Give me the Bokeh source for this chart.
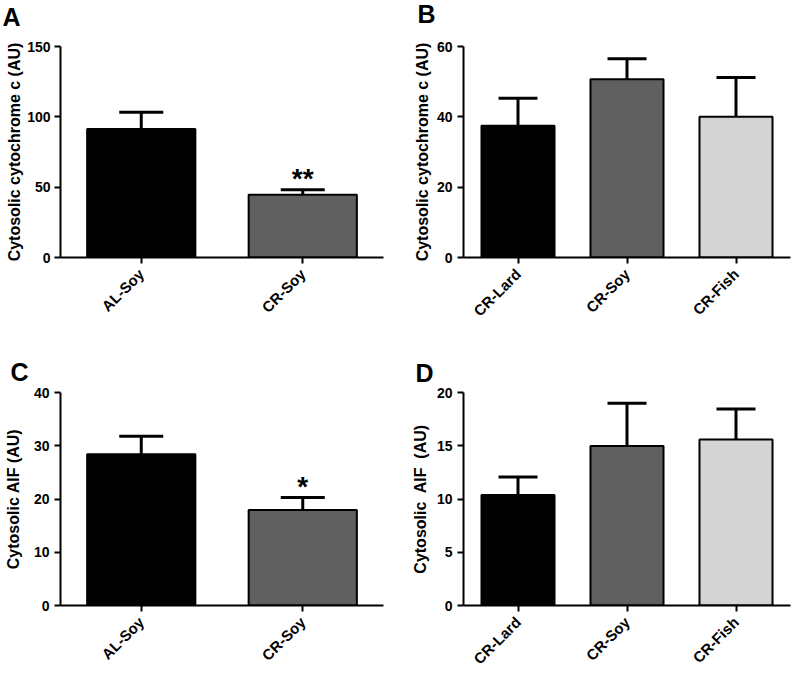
import math
from bokeh.plotting import figure
from bokeh.models import ColumnDataSource, Range1d, FixedTicker, Whisker, TeeHead, Label, FactorRange
from bokeh.layouts import row, column
from bokeh.embed import file_html
from bokeh.resources import INLINE
from bokeh.core.properties import value

# ---- data ----
groups_ac = ["AL-Soy", "CR-Soy"]
groups_bd = ["CR-Lard", "CR-Soy", "CR-Fish"]

cytc_a_mean = [91.4, 44.6]
cytc_a_sem = [11.9, 3.6]
cytc_a_sig = ["", "**"]

cytc_b_mean = [37.5, 50.7, 40.0]
cytc_b_sem = [7.8, 5.8, 11.2]
cytc_b_sig = ["", "", ""]

aif_c_mean = [28.4, 17.95]
aif_c_sem = [3.4, 2.35]
aif_c_sig = ["", "*"]

aif_d_mean = [10.38, 14.98, 15.59]
aif_d_sem = [1.68, 4.0, 2.86]
aif_d_sig = ["", "", ""]

colors_ac = ["#000000", "#606060"]
colors_bd = ["#000000", "#606060", "#d4d4d4"]

ticks_a = [0, 50, 100, 150]
ticks_b = [0, 20, 40, 60]
ticks_c = [0, 10, 20, 30, 40]
ticks_d = [0, 5, 10, 15, 20]

label_cytc = "Cytosolic cytochrome c (AU)"
label_aif_c = "Cytosolic AIF (AU)"
label_aif_d = "Cytosolic\u00a0 AIF\u00a0 (AU)"

FONT = "Liberation Sans"


def panel(letter, cats, means, sems, colors, sig, ticks, ylabel,
          width, height, bl, br, bt, bb, cap, lx, ly, lab_standoff, tick_standoff, letter_size):
    upper = [m + s for m, s in zip(means, sems)]
    src = ColumnDataSource(dict(x=cats, top=means, upper=upper, color=colors, sig=sig))
    p = figure(x_range=FactorRange(factors=cats), y_range=Range1d(0, ticks[-1]),
               width=width, height=height, output_backend="svg", toolbar_location=None,
               sizing_mode="fixed")
    p.min_border_left = bl
    p.min_border_right = br
    p.min_border_top = bt
    p.min_border_bottom = bb
    p.vbar(x="x", top="top", width=0.67, fill_color="color", line_color="black",
           line_width=2, source=src)
    w = Whisker(base="x", lower="top", upper="upper", source=src, dimension="height",
                line_width=3, line_color="black", level="glyph",
                upper_head=TeeHead(size=cap, line_width=3, line_color="black"),
                lower_head=None)
    p.add_layout(w)
    p.text(x="x", y="upper", text="sig", source=src, text_font=value(FONT),
           text_font_style="bold", text_font_size="28px", text_align="center",
           text_baseline="alphabetic", y_offset=-11, text_color="black")
    for ax in (p.xaxis[0], p.yaxis[0]):
        ax.axis_line_width = 2
        ax.axis_line_color = "black"
        ax.major_tick_line_width = 2
        ax.major_tick_line_color = "black"
        ax.major_tick_out = 6
        ax.major_tick_in = 0
        ax.minor_tick_line_color = None
        ax.major_label_text_font = FONT
        ax.major_label_text_font_style = "bold"
        ax.major_label_text_color = "black"
    p.yaxis.major_label_text_font_size = "14px"
    p.xaxis.major_label_text_font_size = "15px"
    p.yaxis.major_label_standoff = tick_standoff
    p.xaxis.major_label_standoff = 8
    p.yaxis.ticker = FixedTicker(ticks=ticks)
    p.yaxis.axis_label = ylabel
    p.yaxis.axis_label_text_font = FONT
    p.yaxis.axis_label_text_font_style = "bold"
    p.yaxis.axis_label_text_font_size = "16px"
    p.yaxis.axis_label_text_color = "black"
    p.yaxis.axis_label_standoff = lab_standoff
    p.xaxis.major_label_orientation = math.pi / 4
    p.xgrid.visible = False
    p.ygrid.visible = False
    p.outline_line_color = None
    p.add_layout(Label(x=lx, y=ly, x_units="screen", y_units="screen", text=letter,
                       text_font=FONT, text_font_style="bold", text_font_size=letter_size,
                       text_color="black", text_baseline="alphabetic"), "above")
    return p


pa = panel("A", groups_ac, cytc_a_mean, cytc_a_sem, colors_ac, cytc_a_sig, ticks_a, label_cytc,
           400, 330, 60, 17, 42, 73, 44, -58, 30, 1, 4, "25px")
pb = panel("B", groups_bd, cytc_b_mean, cytc_b_sem, colors_bd, cytc_b_sig, ticks_b, label_cytc,
           395, 330, 63, 5, 46, 70, 39, -46, 33, 3, 5, "25px")
pc = panel("C", groups_ac, aif_c_mean, aif_c_sem, colors_ac, aif_c_sig, ticks_c, label_aif_c,
           400, 346, 60, 17, 62, 69, 44, -50, 21, 9, 5, "25px")
pd = panel("D", groups_bd, aif_d_mean, aif_d_sem, colors_bd, aif_d_sig, ticks_d, label_aif_d,
           395, 346, 63, 5, 60, 71, 39, -48, 20, 5, 5, "25px")

layout = column(row(pa, pb), row(pc, pd))
open("out.html", "w").write(file_html(layout, INLINE))
